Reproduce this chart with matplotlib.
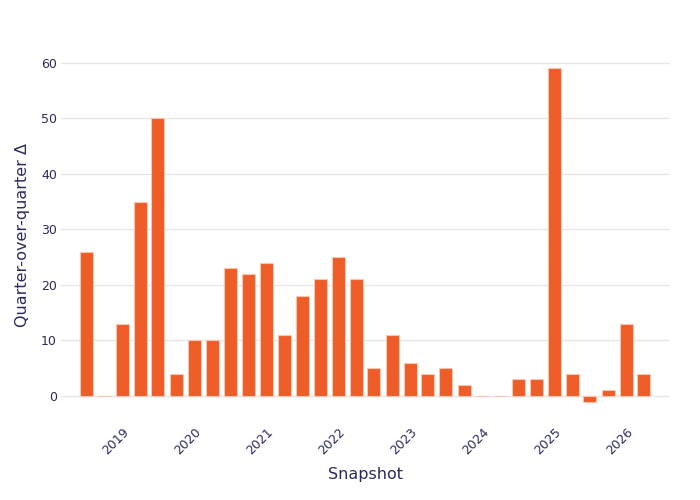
import numpy as np
import pandas as pd
import matplotlib
matplotlib.use("Agg")
import matplotlib.pyplot as plt

plt.rcParams["font.family"] = ["DejaVu Sans"]

# quarter-end snapshots
snapshots = pd.date_range("2018-06-30", periods=32, freq="QE")
deltas = [26, 0, 13, 35, 50, 4, 10, 10, 23, 22, 24, 11, 18, 21, 25, 21,
          5, 11, 6, 4, 5, 2, 0, 0, 3, 3, 59, 4, -1, 1, 13, 4]
year_ticks = pd.to_datetime([f"{y}-01-01" for y in range(2019, 2027)])
year_labels = [str(y) for y in range(2019, 2027)]

text_col = "#2b2a5e"
bar_col = "#ee5d28"

fig = plt.figure(figsize=(7, 5), dpi=100)
ax = fig.add_axes([61 / 700, 80 / 500, 609 / 700, 370 / 500])

ax.bar(snapshots, deltas, width=66, color=bar_col, edgecolor="#f9c6b0",
       linewidth=0.8, zorder=3)

ax.set_ylim(-4.32, 62.3)
ax.set_yticks(range(0, 61, 10))
ax.set_xlim(snapshots[0] - pd.Timedelta(days=127), snapshots[-1] + pd.Timedelta(days=132))
ax.set_xticks(year_ticks)
ax.set_xticklabels(year_labels, rotation=45, ha="right", rotation_mode="anchor")

ax.grid(axis="y", color="#e6e6e6", linewidth=1, zorder=0)
for s in ax.spines.values():
    s.set_visible(False)
ax.tick_params(axis="both", length=0, colors=text_col, labelsize=9)
ax.tick_params(axis="y", pad=3)
ax.tick_params(axis="x", pad=4)

ax.set_xlabel("Snapshot", color=text_col, fontsize=11.5, labelpad=7)
ax.set_ylabel("Quarter-over-quarter Δ", color=text_col, fontsize=11.5, labelpad=8)

fig.savefig("out.png", dpi=100)
